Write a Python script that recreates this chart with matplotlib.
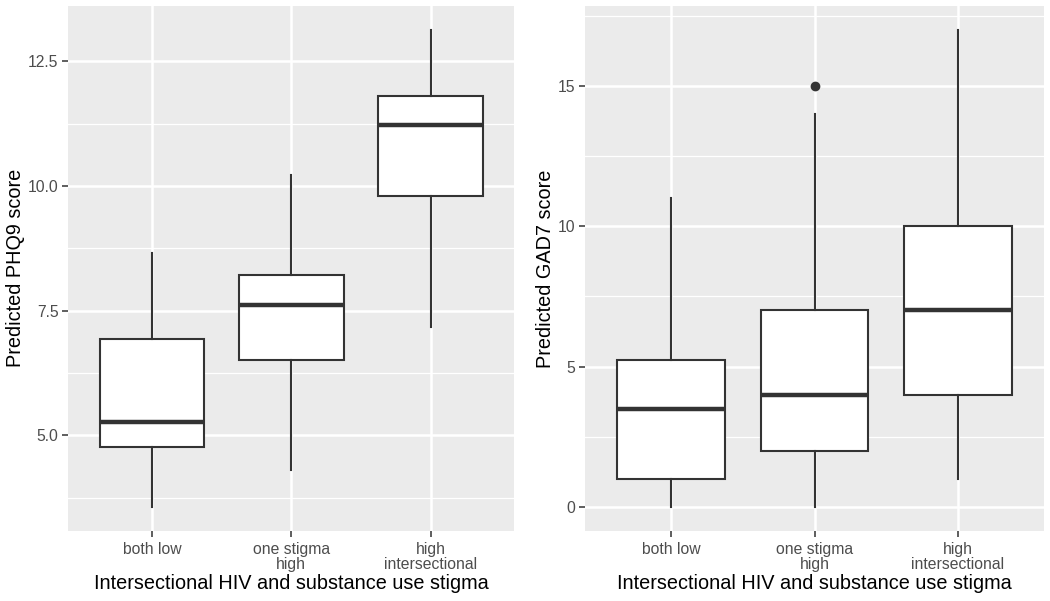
import matplotlib
matplotlib.use("Agg")
import matplotlib.pyplot as plt
from matplotlib.ticker import FixedLocator

plt.rcParams['font.family'] = ['Liberation Sans', 'DejaVu Sans']

categories = ["both low", "one stigma\nhigh", "high\nintersectional"]

# PHQ9 box statistics: whislo, q1, median, q3, whishi
phq9_whislo = [3.57, 4.30, 7.18]
phq9_q1 = [4.76, 6.51, 9.80]
phq9_med = [5.28, 7.62, 11.23]
phq9_q3 = [6.93, 8.22, 11.80]
phq9_whishi = [8.66, 10.22, 13.13]
phq9_fliers = [[], [], []]

# GAD7 box statistics
gad7_whislo = [0, 0, 1]
gad7_q1 = [1.0, 2.0, 4.0]
gad7_med = [3.5, 4.0, 7.0]
gad7_q3 = [5.25, 7.0, 10.0]
gad7_whishi = [11, 14, 17]
gad7_fliers = [[], [15], []]

phq9_ticks = [5.0, 7.5, 10.0, 12.5]
phq9_ticklabels = ["5.0", "7.5", "10.0", "12.5"]
gad7_ticks = [0, 5, 10, 15]
gad7_ticklabels = ["0", "5", "10", "15"]

xlabel = "Intersectional HIV and substance use stigma"
ylabel_left = "Predicted PHQ9 score"
ylabel_right = "Predicted GAD7 score"

W, H = 1050, 601
fig = plt.figure(figsize=(W / 100, H / 100), dpi=100)


def make_axes(x0, y0, x1, y1):
    return fig.add_axes([x0 / W, 1 - y1 / H, (x1 - x0) / W, (y1 - y0) / H])


ax1 = make_axes(68.3, 6, 514.3, 530.7)
ax2 = make_axes(585, 6, 1044, 530.7)


def draw(ax, lo, q1, med, q3, hi, fliers, ticks, ticklabels, ylabel):
    stats = []
    for i in range(len(categories)):
        stats.append(dict(whislo=lo[i], q1=q1[i], med=med[i], q3=q3[i],
                          whishi=hi[i], fliers=fliers[i]))
    pos = list(range(1, len(categories) + 1))
    ax.set_facecolor("#EBEBEB")
    for s in ax.spines.values():
        s.set_visible(False)
    ax.bxp(stats, positions=pos, widths=0.75, patch_artist=True,
           showcaps=False,
           boxprops=dict(facecolor="white", edgecolor="#333333", linewidth=1.5),
           whiskerprops=dict(color="#333333", linewidth=1.5),
           medianprops=dict(color="#333333", linewidth=3.2, solid_capstyle="butt"),
           flierprops=dict(marker="o", markerfacecolor="#333333",
                           markeredgecolor="#333333", markersize=6),
           zorder=3)
    allv = lo + hi + [f for fl in fliers for f in fl]
    vmin, vmax = min(allv), max(allv)
    r = vmax - vmin
    ax.set_ylim(vmin - 0.05 * r, vmax + 0.05 * r)
    ax.set_xlim(0.4, len(categories) + 0.6)
    ax.set_yticks(ticks)
    ax.set_yticklabels(ticklabels)
    minor = [(ticks[i] + ticks[i + 1]) / 2 for i in range(len(ticks) - 1)]
    step = ticks[1] - ticks[0]
    minor = [ticks[0] - step / 2] + minor + [ticks[-1] + step / 2]
    ax.yaxis.set_minor_locator(FixedLocator(minor))
    ax.set_xticks(pos)
    ax.set_xticklabels(categories, linespacing=1.0)
    ax.grid(True, which="major", color="white", linewidth=1.8, zorder=0)
    ax.grid(True, which="minor", axis="y", color="white", linewidth=0.9, zorder=0)
    ax.set_axisbelow(True)
    ax.tick_params(axis="both", which="major", length=4, width=1.1, color="#333333",
                   labelcolor="#4D4D4D", labelsize=11.3, pad=3)
    ax.tick_params(axis="x", which="major", pad=4)
    ax.tick_params(axis="both", which="minor", length=0)
    ax.set_xlabel(xlabel, fontsize=14.3, color="black", labelpad=1.5)
    ax.set_ylabel(ylabel, fontsize=14.3, color="black", labelpad=2)


draw(ax1, phq9_whislo, phq9_q1, phq9_med, phq9_q3, phq9_whishi, phq9_fliers,
     phq9_ticks, phq9_ticklabels, ylabel_left)
draw(ax2, gad7_whislo, gad7_q1, gad7_med, gad7_q3, gad7_whishi, gad7_fliers,
     gad7_ticks, gad7_ticklabels, ylabel_right)

fig.savefig("out.png", dpi=100)
